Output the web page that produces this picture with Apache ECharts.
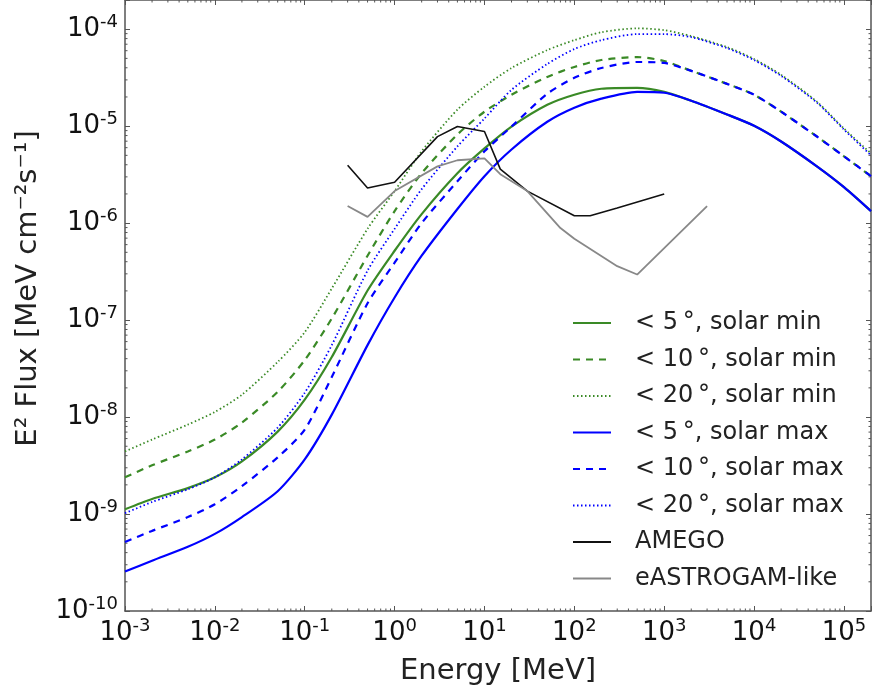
<!DOCTYPE html>
<html>
<head>
<meta charset="utf-8">
<script src="https://cdn.jsdelivr.net/npm/echarts@6/dist/echarts.min.js"></script>
<style>
  html, body { margin: 0; padding: 0; background: #fff; }
  #chart { width: 874px; height: 691px; }
</style>
</head>
<body>
<div id="chart"></div>
<script>
// energy grid of the model curves [MeV]
const energy = [1e-3, 2e-3, 5e-3, 1e-2, 2e-2, 5e-2, 0.1, 0.2, 0.5, 1, 2, 5, 10, 20, 50, 100, 200, 500, 1e3, 2e3, 5e3, 1e4, 2e4, 5e4, 1e5, 2e5];

// E^2 flux, solar min
const min5 = [1.12e-9, 1.43e-9, 1.85e-9, 2.39e-9, 3.49e-9, 7.08e-9, 1.51e-8, 4.16e-8, 2.02e-7, 5.19e-7, 1.24e-6, 3.27e-6, 5.89e-6, 9.9e-6, 1.66e-5, 2.11e-5, 2.43e-5, 2.48e-5, 2.26e-5, 1.83e-5, 1.32e-5, 1.01e-5, 6.95e-6, 3.85e-6, 2.35e-6, 1.33e-6];
const min10 = [2.39e-9, 3.18e-9, 4.42e-9, 5.86e-9, 8.77e-9, 1.82e-8, 3.87e-8, 1.04e-7, 4.61e-7, 1.33e-6, 3.27e-6, 8.2e-6, 1.41e-5, 2.11e-5, 3.22e-5, 4.08e-5, 4.81e-5, 5.16e-5, 4.7e-5, 3.72e-5, 2.73e-5, 2.11e-5, 1.41e-5, 7.82e-6, 4.89e-6, 3.05e-6];
const min20 = [4.42e-9, 5.86e-9, 8.36e-9, 1.13e-8, 1.7e-8, 3.7e-8, 7.5e-8, 2.12e-7, 8.73e-7, 2.14e-6, 5.5e-6, 1.48e-5, 2.55e-5, 3.98e-5, 6.09e-5, 7.71e-5, 9.31e-5, 1.02e-4, 9.77e-5, 8.48e-5, 6.54e-5, 4.93e-5, 3.38e-5, 1.79e-5, 9.44e-6, 5.24e-6];

// E^2 flux, solar max
const max5 = [2.55e-10, 3.3e-10, 4.59e-10, 6.24e-10, 9.31e-10, 1.72e-9, 3.66e-9, 1.06e-8, 5.52e-8, 1.71e-7, 4.61e-7, 1.4e-6, 3.05e-6, 5.75e-6, 1.11e-5, 1.55e-5, 1.92e-5, 2.26e-5, 2.21e-5, 1.83e-5, 1.32e-5, 1.01e-5, 6.95e-6, 3.85e-6, 2.35e-6, 1.33e-6];
const max10 = [5.16e-10, 6.7e-10, 9.31e-10, 1.26e-9, 1.94e-9, 3.84e-9, 7.43e-9, 2.59e-8, 1.49e-7, 3.91e-7, 1.0e-6, 2.7e-6, 5.5e-6, 9.9e-6, 2.16e-5, 3.15e-5, 3.98e-5, 4.59e-5, 4.49e-5, 3.72e-5, 2.73e-5, 2.11e-5, 1.41e-5, 7.82e-6, 4.89e-6, 3.05e-6];
const max20 = [1.02e-9, 1.33e-9, 1.8e-9, 2.39e-9, 3.66e-9, 7.79e-9, 1.78e-8, 5.52e-8, 3.24e-7, 8.73e-7, 2.24e-6, 6.18e-6, 1.2e-5, 2.37e-5, 4.38e-5, 6.24e-5, 7.71e-5, 8.89e-5, 8.89e-5, 8.28e-5, 6.38e-5, 4.81e-5, 3.3e-5, 1.75e-5, 9.23e-6, 5.0e-6];

// instrument sensitivities
const amegoE = [0.3, 0.5, 1, 3, 5, 10, 15, 30, 100, 150, 300, 1000];
const amegoF = [3.95e-6, 2.3e-6, 2.64e-6, 7.8e-6, 9.9e-6, 8.8e-6, 3.6e-6, 2.14e-6, 1.19e-6, 1.19e-6, 1.43e-6, 2.0e-6];
const eastroE = [0.3, 0.5, 1, 3, 5, 10, 15, 30, 70, 100, 300, 500, 3000];
const eastroF = [1.5e-6, 1.16e-6, 2.14e-6, 3.85e-6, 4.45e-6, 4.66e-6, 3.2e-6, 2.14e-6, 8.9e-7, 6.9e-7, 3.6e-7, 2.95e-7, 1.5e-6];

const legendNames = [
  "< 5\u2009°, solar min", "< 10\u2009°, solar min", "< 20\u2009°, solar min",
  "< 5\u2009°, solar max", "< 10\u2009°, solar max", "< 20\u2009°, solar max",
  "AMEGO", "eASTROGAM-like",
];

// axis ranges
const xMin = 1e-3, xMax = 2e5;
const yMin = 1e-10, yMax = 2e-4;
const minorSteps = [2, 3, 4, 5, 6, 7, 8, 9];

const GREEN = "#3a8a26";
const BLUE = "#0000ff";
const AXIS = "#555";
const FONT = "DejaVu Sans";

const pairs = (xs, ys) => xs.map((x, i) => [x, ys[i]]);

// minor tick values k*10^n inside a range
function minorTicks(lo, hi) {
  const out = [];
  for (let n = Math.floor(Math.log10(lo)); n <= Math.ceil(Math.log10(hi)); n++) {
    minorSteps.forEach((k) => {
      const v = k * Math.pow(10, n);
      if (v > lo && v < hi) out.push(v);
    });
  }
  return out;
}

function powLabel(v) {
  const l = Math.log10(v);
  const e = Math.round(l);
  if (Math.abs(l - e) > 1e-6) return "";
  return "{b|10}{s|" + e + "}";
}

const labelRich = {
  b: { fontSize: 26, fontFamily: FONT, color: "#111", lineHeight: 32, verticalAlign: "middle" },
  s: { fontSize: 18, fontFamily: FONT, color: "#111", lineHeight: 16, verticalAlign: "top" },
};

const chart = echarts.init(document.getElementById("chart"));

const line = (name, data, color, type, width) => ({
  name,
  type: "line",
  data,
  showSymbol: false,
  symbol: "none",
  smooth: 0.25,
  lineStyle: { color, type, width },
  itemStyle: { color },
  z: 3,
});

const dashed = [7, 6];
const dotted = [1.5, 2.5];

const axisCommon = {
  type: "log",
  logBase: 10,
  interval: 1,
  axisLine: { show: true, lineStyle: { color: AXIS, width: 1.5 } },
  axisTick: { show: true, inside: true, length: 5, lineStyle: { color: AXIS } },
  splitLine: { show: false },
};

option = {
  animation: false,
  backgroundColor: "#fff",
  grid: { left: 125, right: 1, top: -1, bottom: 78 },
  legend: {
    orient: "vertical",
    left: 567,
    top: 304,
    itemWidth: 38,
    itemHeight: 14,
    itemGap: 8.5,
    itemStyle: { opacity: 0 },
    textStyle: { fontSize: 24, fontFamily: FONT, color: "#222", lineHeight: 28, padding: [0, 0, 0, 19] },
    data: legendNames,
  },
  xAxis: [
    Object.assign({}, axisCommon, {
      min: xMin,
      max: xMax,
      name: "Energy [MeV]",
      nameLocation: "middle",
      nameGap: 46,
      nameTextStyle: { fontSize: 29, fontFamily: FONT, color: "#222" },
      axisLabel: { margin: 6, formatter: powLabel, rich: labelRich },
    }),
    Object.assign({}, axisCommon, {
      min: xMin,
      max: xMax,
      position: "top",
      axisLabel: { show: false },
    }),
  ],
  yAxis: [
    Object.assign({}, axisCommon, {
      min: yMin,
      max: yMax,
      name: "E² Flux [MeV cm⁻²s⁻¹]",
      nameLocation: "middle",
      nameRotate: 90,
      nameGap: 82,
      nameTextStyle: { fontSize: 29, fontFamily: FONT, color: "#222", padding: [0, 0, 0, 34] },
      axisLabel: { margin: 7, formatter: powLabel, rich: labelRich },
    }),
    Object.assign({}, axisCommon, {
      min: yMin,
      max: yMax,
      position: "right",
      axisLabel: { show: false },
    }),
  ],
  series: [
    line(legendNames[0], pairs(energy, min5), GREEN, "solid", 2.2),
    line(legendNames[1], pairs(energy, min10), GREEN, dashed, 2.2),
    line(legendNames[2], pairs(energy, min20), GREEN, dotted, 1.8),
    line(legendNames[3], pairs(energy, max5), BLUE, "solid", 2.2),
    line(legendNames[4], pairs(energy, max10), BLUE, dashed, 2.2),
    line(legendNames[5], pairs(energy, max20), BLUE, dotted, 1.8),
    Object.assign(line(legendNames[6], pairs(amegoE, amegoF), "#111", "solid", 1.6), { smooth: false }),
    Object.assign(line(legendNames[7], pairs(eastroE, eastroF), "#888", "solid", 1.8), { smooth: false }),
    {
      // minor ticks, bottom and top
      type: "custom",
      silent: true,
      clip: false,
      data: minorTicks(xMin, xMax).map((v) => [v, yMin]),
      renderItem: (params, api) => {
        const x = api.coord([api.value(0), yMin])[0];
        const r = params.coordSys;
        const st = { stroke: AXIS, lineWidth: 1 };
        return {
          type: "group",
          children: [
            { type: "line", shape: { x1: x, y1: r.y + r.height, x2: x, y2: r.y + r.height - 2.5 }, style: st },
            { type: "line", shape: { x1: x, y1: r.y, x2: x, y2: r.y + 2.5 }, style: st },
          ],
        };
      },
    },
    {
      // minor ticks, left and right
      type: "custom",
      silent: true,
      clip: false,
      data: minorTicks(yMin, yMax).map((v) => [xMin, v]),
      renderItem: (params, api) => {
        const y = api.coord([xMin, api.value(1)])[1];
        const r = params.coordSys;
        const st = { stroke: AXIS, lineWidth: 1 };
        return {
          type: "group",
          children: [
            { type: "line", shape: { x1: r.x, y1: y, x2: r.x + 2.5, y2: y }, style: st },
            { type: "line", shape: { x1: r.x + r.width, y1: y, x2: r.x + r.width - 2.5, y2: y }, style: st },
          ],
        };
      },
    },
  ],
};

chart.setOption(option);
window.addEventListener("resize", () => {
  chart.resize();
});
</script>
</body>
</html>
